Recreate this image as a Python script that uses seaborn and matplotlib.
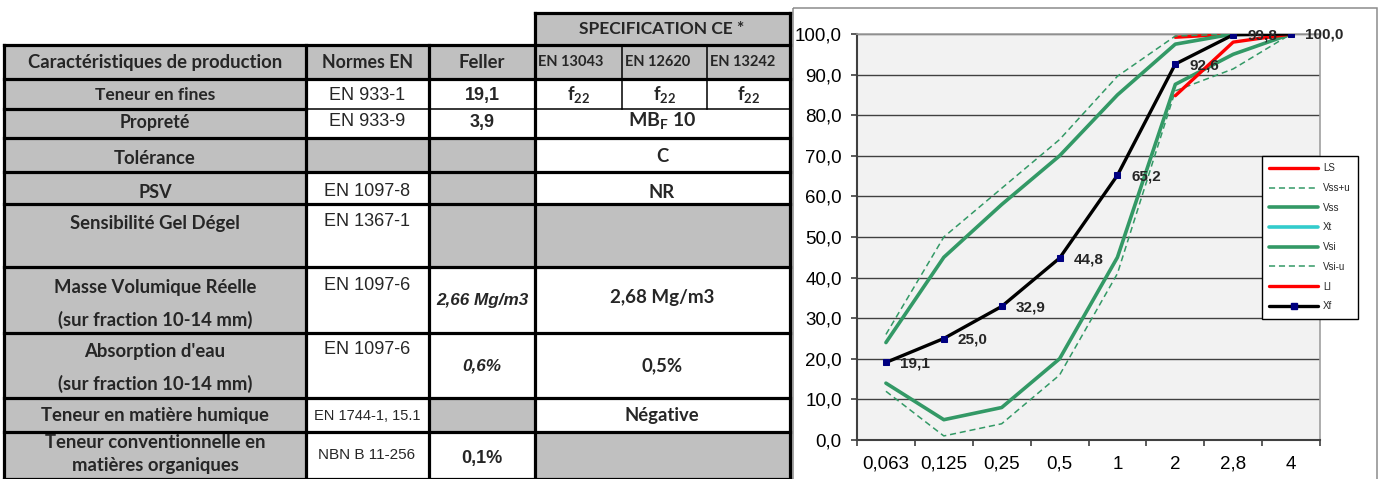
import numpy as np
import pandas as pd
import matplotlib
matplotlib.use("Agg")
import matplotlib.pyplot as plt
import seaborn as sns
from matplotlib.patches import Rectangle
from matplotlib.lines import Line2D
from matplotlib.ticker import FuncFormatter

sns.set_theme(style="white")
plt.rcParams['font.family'] = ['Liberation Sans', 'DejaVu Sans']
plt.rcParams['mathtext.fontset'] = 'custom'
plt.rcParams['mathtext.rm'] = 'Lato:bold'
plt.rcParams['mathtext.it'] = 'Lato:bold'
plt.rcParams['mathtext.bf'] = 'Lato:bold'

# ---------------- data ----------------
sieve_sizes = ["0,063", "0,125", "0,25", "0,5", "1", "2", "2,8", "4"]
nan = np.nan
LS = [nan, nan, nan, nan, nan, 99.2, 100.0, 100.0]
Vss_u = [26.0, 50.0, 62.0, 74.0, 89.6, 99.5, 100.0, 100.0]
Vss = [24.0, 45.0, 58.0, 70.0, 85.0, 97.5, 100.0, 100.0]
Xt = [nan] * 8
Vsi = [14.0, 5.0, 8.0, 20.0, 45.0, 87.6, 95.0, 100.0]
Vsi_u = [12.0, 1.0, 4.0, 16.0, 41.0, 86.0, 91.4, 100.0]
LI = [nan, nan, nan, nan, nan, 84.8, 98.0, 100.0]
Xf = [19.1, 25.0, 32.9, 44.8, 65.2, 92.6, 99.8, 100.0]
series_names = ["LS", "Vss+u", "Vss", "Xt", "Vsi", "Vsi-u", "LI", "Xf"]

header_labels = ["Caractéristiques de production", "Normes EN", "Feller"]
spec_title = "SPECIFICATION CE *"
spec_norms = ["EN 13043", "EN 12620", "EN 13242"]
row_labels = [["Teneur en fines"], ["Propreté"], ["Tolérance"], ["PSV"],
              ["Sensibilité Gel Dégel"],
              ["Masse Volumique Réelle", "(sur fraction 10-14 mm)"],
              ["Absorption d'eau", "(sur fraction 10-14 mm)"],
              ["Teneur en matière humique"],
              ["Teneur conventionnelle en", "matières organiques"]]
normes = ["EN 933-1", "EN 933-9", "", "EN 1097-8", "EN 1367-1", "EN 1097-6",
          "EN 1097-6", "EN 1744-1, 15.1", "NBN B 11-256"]
feller = ["19,1", "3,9", "", "", "", "2,66 Mg/m3", "0,6%", "", "0,1%"]
spec_f22 = ["f$_{22}$", "f$_{22}$", "f$_{22}$"]
spec_vals = [None, "MB$_{F}$ 10", "C", "NR", "", "2,68 Mg/m3", "0,5%", "Négative", ""]

# ---------------- figure ----------------
W, H = 1384, 479
fig = plt.figure(figsize=(W / 100, H / 100), dpi=100)
fig.patch.set_facecolor("white")
T = fig.add_axes([0, 0, 1, 1])
T.set_xlim(0, W)
T.set_ylim(H, 0)
T.axis("off")

GRAY = "#C0C0C0"
CAL = ["Lato", "DejaVu Sans"]
ARI = ["Liberation Sans", "DejaVu Sans"]

# column & row boundaries (pixels)
cx = [4, 306, 429, 535, 622, 707, 790]
ry = [45, 79, 109, 138, 172, 204, 267, 333, 398, 432, 479]

def fill(x0, x1, y0, y1, c):
    T.add_patch(Rectangle((x0, y0), x1 - x0, y1 - y0, facecolor=c, edgecolor="none", zorder=1))

fill(4, 790, 45, 479, "white")
fill(535, 790, 13, 45, GRAY)
fill(4, 790, 45, 79, GRAY)
fill(4, 306, 79, 479, GRAY)
fill(306, 535, 138, 172, GRAY)
fill(429, 535, 172, 204, GRAY)
fill(429, 790, 204, 267, GRAY)
fill(429, 535, 398, 432, GRAY)
fill(535, 790, 432, 479, GRAY)

THICK, THIN = 2.3, 1.1
def hl(y, x0, x1, lw):
    T.plot([x0, x1], [y, y], color="black", lw=lw, solid_capstyle="projecting", zorder=3)
def vl(x, y0, y1, lw):
    T.plot([x, x], [y0, y1], color="black", lw=lw, solid_capstyle="projecting", zorder=3)

hl(13, 535, 790, THICK)
for y in [45, 79] + ry[3:]:
    hl(y, 4, 790, THICK)
hl(109, 4, 306, THICK)
hl(109, 306, 790, THIN)
for x in [4, 306, 429]:
    vl(x, 45, 479, THICK)
for x in [535, 790]:
    vl(x, 13, 479, THICK)
for x in [622, 707]:
    vl(x, 45, 109, THIN)

def txt(x, y, s, size=13.3, fam=CAL, weight="bold", style="normal", ha="center"):
    T.text(x, y, s, ha=ha, va="center", fontsize=size, family=fam,
           fontweight=weight, style=style, zorder=4)

# header
txt(662, 29, spec_title, size=12.5)
txt(155, 62, header_labels[0])
txt(367, 62, header_labels[1], size=12.8)
txt(482, 62, header_labels[2])
for x0, s in zip(cx[3:6], spec_norms):
    txt(x0 + 3, 62, s, size=10.5, ha="left")

col0_y = [[95], [122], [158], [193], [223], [287, 320], [352, 384], [415], [442, 466]]
col0_sz = [12.5, 12.8, 13.3, 13.0, 13.3, 13.3, 13.3, 13.3, 13.3]
for lines, ys, sz in zip(row_labels, col0_y, col0_sz):
    for s, y in zip(lines, ys):
        txt(155, y, s, size=sz)

normes_y = [95, 121, 0, 192, 222, 286, 350, 416, 455]
normes_sz = [13, 13, 13, 13, 13, 13, 13, 10.5, 11]
for s, y, sz in zip(normes, normes_y, normes_sz):
    if s:
        txt(367, y, s, size=sz, fam=ARI, weight="normal")

feller_y = [95, 122, 0, 0, 0, 300, 366, 0, 459]
for i, (s, y) in enumerate(zip(feller, feller_y)):
    if s:
        it = "italic" if i in (5, 6) else "normal"
        sz = 12.3 if i in (5, 6) else 13
        txt(482, y, s, size=sz, fam=ARI, style=it)

for x0, x1, s in zip(cx[3:6], cx[4:7], spec_f22):
    txt((x0 + x1) / 2, 94, s, size=13.3)
spec_y = [0, 120, 157, 192, 0, 298, 366, 416, 0]
spec_sz = [0, 14, 13.3, 13.3, 0, 13.5, 13.3, 13.3, 0]
for s, y, sz in zip(spec_vals, spec_y, spec_sz):
    if s:
        txt(662, y, s, size=sz)

# chart frame
T.add_patch(Rectangle((793, 8), 584, 476, facecolor="none", edgecolor="#8C8C8C", lw=1.1, zorder=2))

# ---------------- chart ----------------
ax = fig.add_axes([857 / W, 1 - 440 / H, (1320 - 857) / W, (440 - 34) / H])
ax.set_facecolor("#F2F2F2")
pos = np.arange(len(sieve_sizes))

GREEN, RED, CYAN = "#339966", "#FF0000", "#33CCCC"
styles = {
    "LS": dict(color=RED, lw=2.4, ls="-"),
    "Vss+u": dict(color=GREEN, lw=1.1, ls=(0, (4, 2.5))),
    "Vss": dict(color=GREEN, lw=2.6, ls="-"),
    "Xt": dict(color=CYAN, lw=2.6, ls="-"),
    "Vsi": dict(color=GREEN, lw=2.6, ls="-"),
    "Vsi-u": dict(color=GREEN, lw=1.1, ls=(0, (4, 2.5))),
    "LI": dict(color=RED, lw=2.4, ls="-"),
    "Xf": dict(color="black", lw=2.4, ls="-"),
}
data = {"LS": LS, "Vss+u": Vss_u, "Vss": Vss, "Xt": Xt, "Vsi": Vsi,
        "Vsi-u": Vsi_u, "LI": LI, "Xf": Xf}

for k, name in enumerate(series_names):
    vals = np.array(data[name], dtype=float)
    m = ~np.isnan(vals)
    if not m.any():
        continue
    st = styles[name]
    kw = {}
    if name == "Xf":
        kw = dict(marker="s", markersize=5, markerfacecolor="#000080",
                  markeredgecolor="#000080")
    sns.lineplot(x=pos[m], y=vals[m], ax=ax, color=st["color"], linewidth=st["lw"],
                 linestyle=st["ls"], legend=False, zorder=3 + k, **kw)

for i, v in enumerate(Xf):
    ax.annotate(f"{v:.1f}".replace(".", ","), (i, v), xytext=(14, -1),
                textcoords="offset pixels", ha="left", va="center",
                fontsize=11, fontweight="bold", family=ARI, zorder=20)

ax.set_xlim(-0.5, len(sieve_sizes) - 0.5)
ax.set_ylim(0, 100)
ax.set_xticks(pos)
ax.set_xticklabels(sieve_sizes)
ax.set_xticks(np.arange(-0.5, len(sieve_sizes), 1), minor=True)
ax.set_yticks(np.arange(0, 101, 10))
ax.yaxis.set_major_formatter(FuncFormatter(lambda v, p: f"{v:.1f}".replace(".", ",")))
ax.tick_params(axis="x", which="major", bottom=True, length=0, pad=11.5, labelsize=13.5, labelcolor="black")
ax.tick_params(axis="x", which="minor", bottom=True, length=4, width=1.2, color="#404040", direction="out")
ax.tick_params(axis="y", which="major", left=True, length=4, width=1.2, color="#404040",
               direction="out", pad=7, labelsize=13.5, labelcolor="black")
ax.set_xlabel("")
ax.set_ylabel("")
ax.grid(axis="y", color="#404040", lw=1.0)
ax.grid(axis="x", visible=False)
ax.set_axisbelow(True)
for sp in ["left", "bottom"]:
    ax.spines[sp].set_color("#404040")
    ax.spines[sp].set_linewidth(1.5)
for sp in ["top", "right"]:
    ax.spines[sp].set_color("#A0A0A0")
    ax.spines[sp].set_linewidth(1.2)
    ax.spines[sp].set_visible(True)

handles = []
for name in series_names:
    st = styles[name]
    kw = {}
    if name == "Xf":
        kw = dict(marker="s", markersize=5, markerfacecolor="#000080", markeredgecolor="#000080")
    handles.append(Line2D([], [], color=st["color"], lw=st["lw"], ls=st["ls"], **kw))
leg = ax.legend(handles, series_names, loc="upper left", bbox_to_anchor=(1262, 156),
                bbox_transform=T.transData, fontsize=7, frameon=True, fancybox=False,
                framealpha=1, edgecolor="black", borderpad=0.75, labelspacing=1.0,
                handlelength=5.0, handletextpad=0.55, borderaxespad=0)
leg.get_frame().set_linewidth(1.0)
leg.set_zorder(30)

fig.savefig("out.png", dpi=100, facecolor="white")
